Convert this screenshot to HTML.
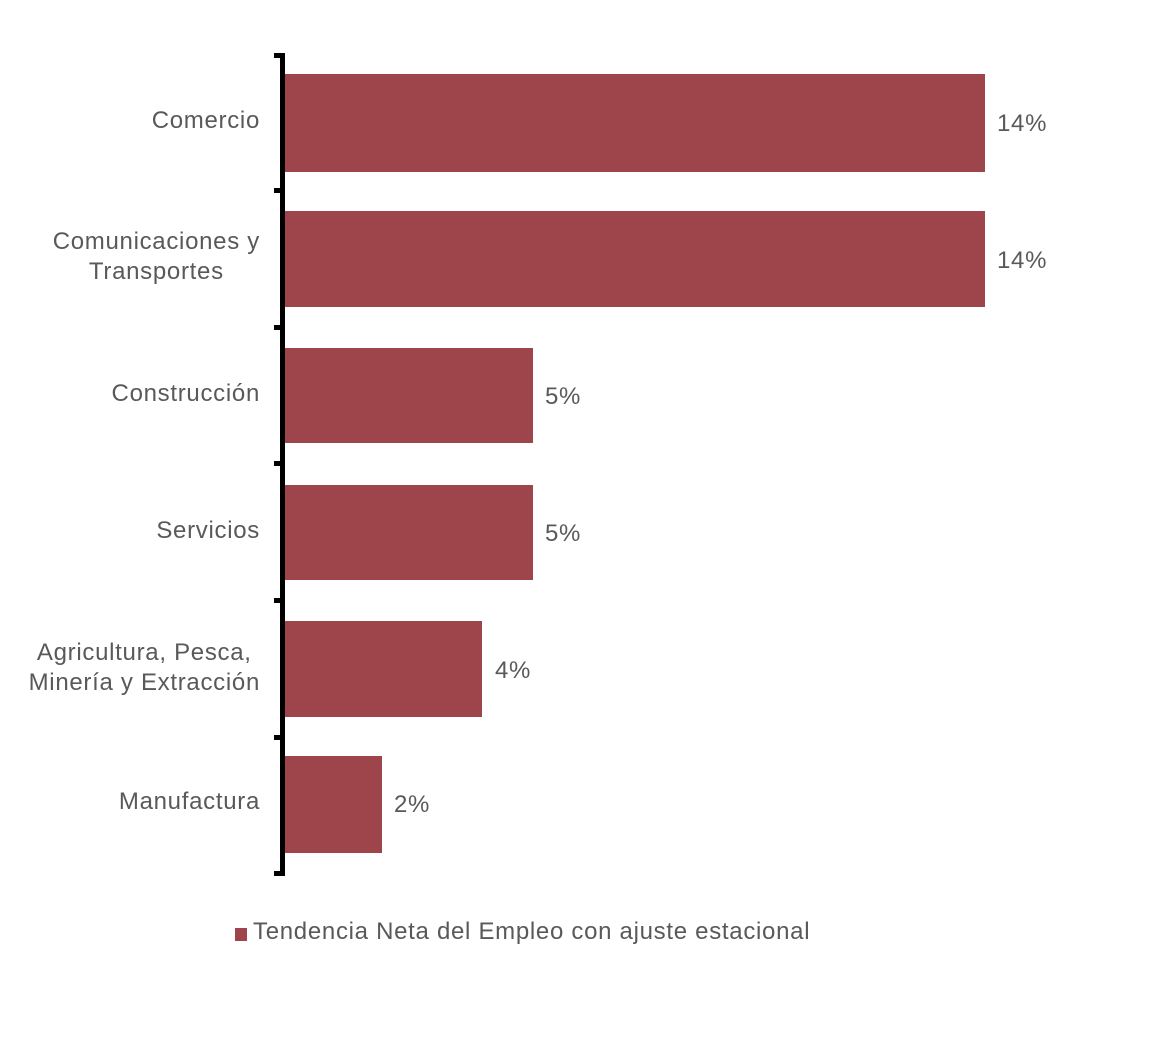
<!DOCTYPE html>
<html><head><meta charset="utf-8"><style>
body{margin:0;background:#fff;}
.c{position:relative;width:1166px;height:1064px;font-family:"Liberation Sans",sans-serif;color:#595959;font-size:24px;letter-spacing:0.7px;}
.b{position:absolute;left:285px;background:#9e444b;}
.v{position:absolute;line-height:24px;}
.l{position:absolute;right:906px;text-align:right;line-height:30px;white-space:nowrap;}
.m{text-align:center;}
.t{position:absolute;left:274px;width:8px;height:5px;background:#000;}
</style></head><body><div class="c">
<div style="position:absolute;left:280px;top:53px;width:5px;height:823px;background:#000"></div>
<div class="t" style="top:53px"></div><div class="t" style="top:188px"></div><div class="t" style="top:325px"></div><div class="t" style="top:461px"></div><div class="t" style="top:598px"></div><div class="t" style="top:735px"></div><div class="t" style="top:871px"></div>
<div class="b" style="top:74px;width:700px;height:98px"></div>
<div class="b" style="top:211px;width:700px;height:96px"></div>
<div class="b" style="top:348px;width:248px;height:95px"></div>
<div class="b" style="top:485px;width:248px;height:95px"></div>
<div class="b" style="top:621px;width:197px;height:96px"></div>
<div class="b" style="top:756px;width:97px;height:97px"></div>
<div class="v" style="left:997px;top:112px">14%</div>
<div class="v" style="left:997px;top:249px">14%</div>
<div class="v" style="left:545px;top:385px">5%</div>
<div class="v" style="left:545px;top:522px">5%</div>
<div class="v" style="left:495px;top:659px">4%</div>
<div class="v" style="left:394px;top:793px">2%</div>
<div class="l" style="top:106px">Comercio</div>
<div class="l m" style="top:227px">Comunicaciones y<br>Transportes</div>
<div class="l" style="top:379px">Construcción</div>
<div class="l" style="top:516px">Servicios</div>
<div class="l m" style="top:638px">Agricultura, Pesca,<br>Minería y Extracción</div>
<div class="l" style="top:787px">Manufactura</div>
<div style="position:absolute;left:235px;top:928px;width:12px;height:13px;background:#9e444b"></div>
<div class="v" style="left:253px;top:920px">Tendencia Neta del Empleo con ajuste estacional</div>
</div></body></html>
